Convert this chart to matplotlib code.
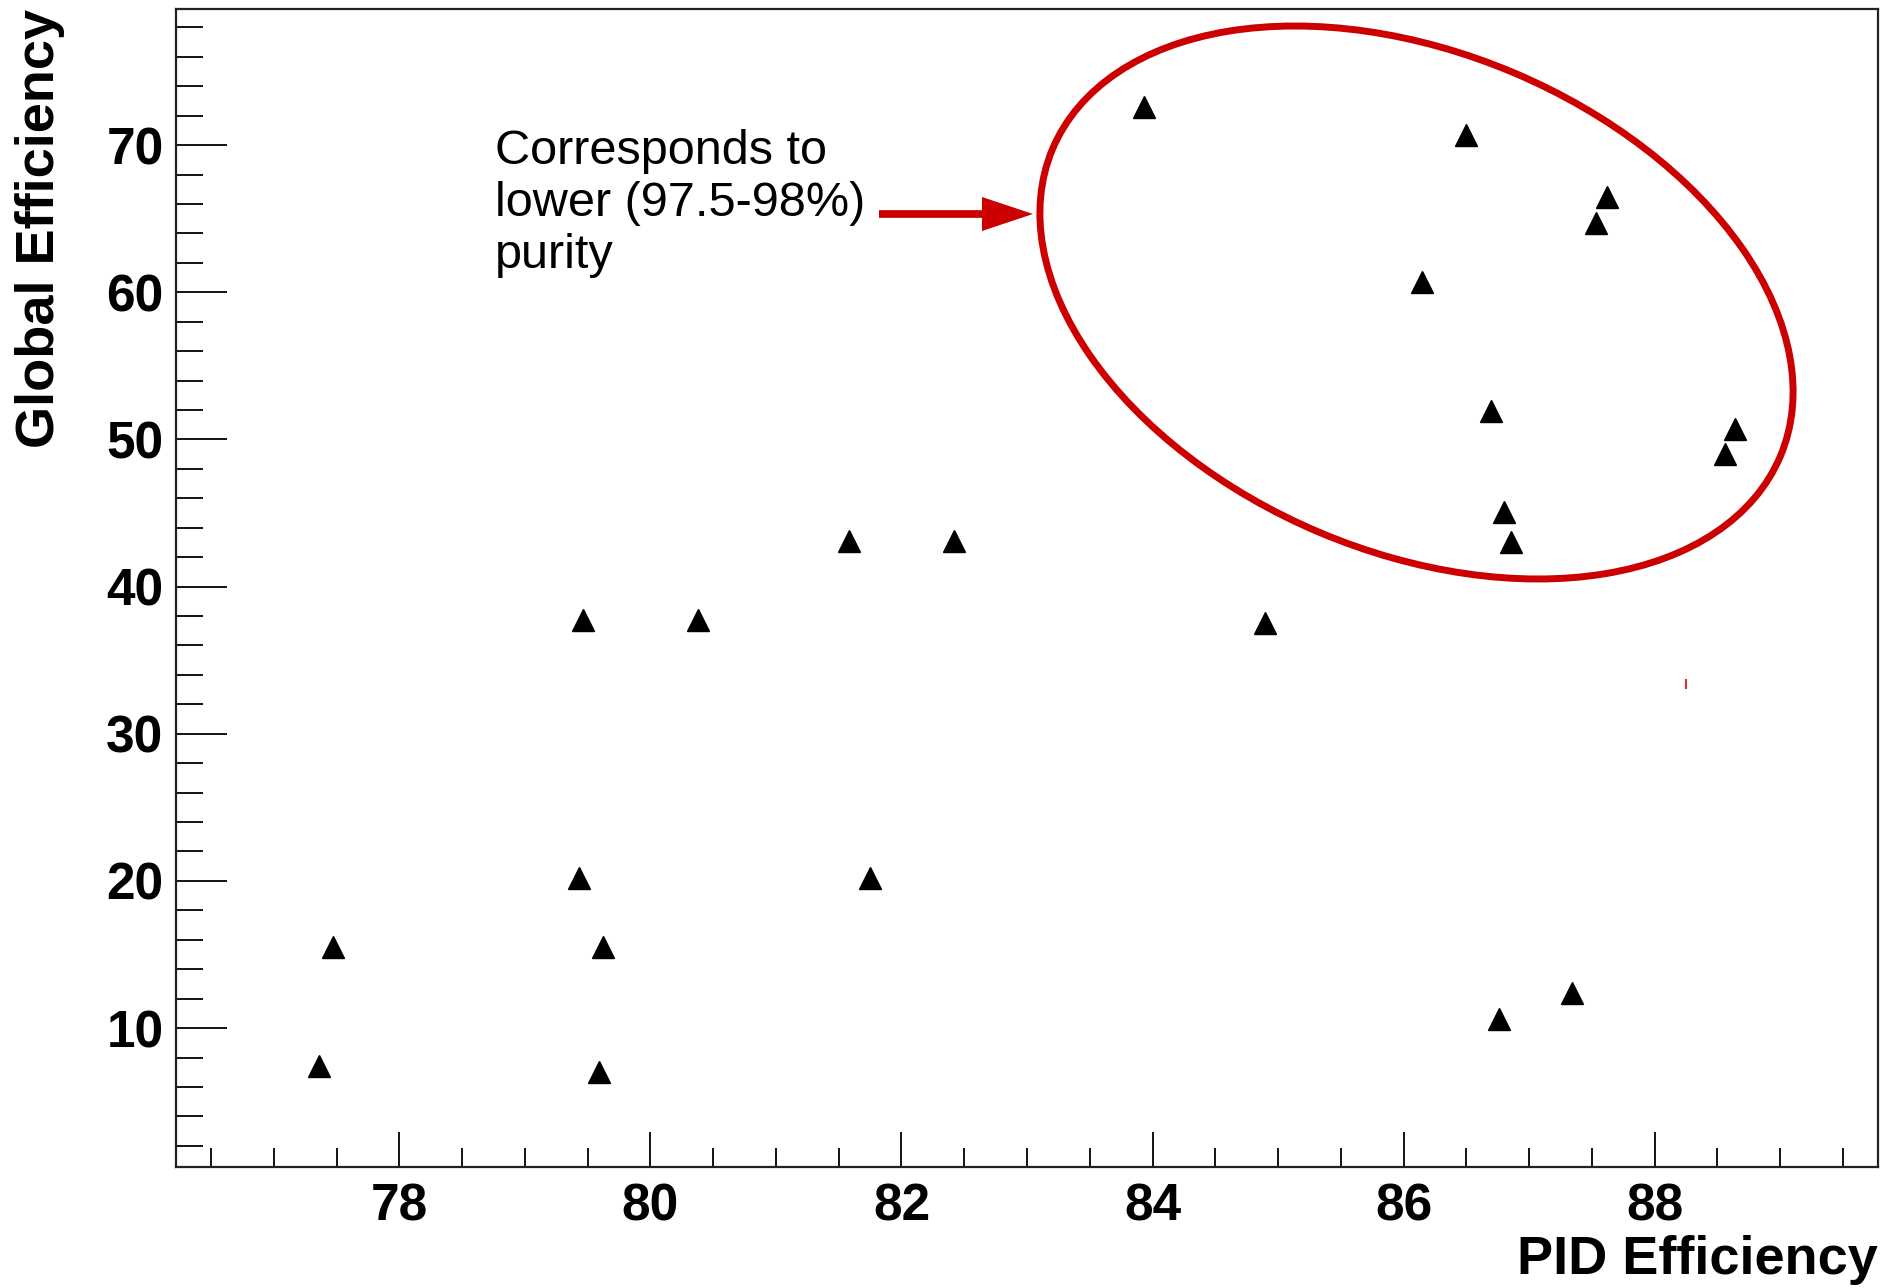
import matplotlib
matplotlib.use("Agg")
import matplotlib.pyplot as plt
from matplotlib.patches import Ellipse, FancyArrow
from matplotlib.ticker import MultipleLocator

# PID efficiency (%) vs global efficiency (%)
pid_eff = [83.93, 86.50, 87.62, 87.53, 86.15, 86.70, 88.64, 88.56, 86.80, 86.86,
           81.58, 82.42, 79.46, 80.38, 84.90, 79.43, 81.75, 77.47, 79.62, 87.34,
           86.76, 77.36, 79.59]
glob_eff = [72.6, 70.7, 66.5, 64.7, 60.7, 51.9, 50.7, 49.0, 45.1, 43.0,
            43.1, 43.1, 37.7, 37.7, 37.5, 20.2, 20.2, 15.5, 15.5, 12.4,
            10.6, 7.4, 7.0]

x_ticks = [78, 80, 82, 84, 86, 88]
y_ticks = [10, 20, 30, 40, 50, 60, 70]
note = "Corresponds to\nlower (97.5-98%)\npurity"
red = "#cc0000"

plt.rcParams["font.family"] = ["Liberation Sans", "DejaVu Sans"]

W, H = 1894, 1288
fig = plt.figure(figsize=(W / 100, H / 100), dpi=100)
ax = fig.add_axes([176 / W, 1 - 1167 / H, (1878 - 176) / W, (1167 - 9) / H])

ax.plot(pid_eff, glob_eff, ls="none", marker="^", ms=16, color="black")
# stray red tick visible in the original
ax.plot([88.25, 88.25], [33.1, 33.65], color="#e03030", lw=1.5)

ax.set_xlim(76.22, 89.78)
ax.set_ylim(0.56, 79.25)
ax.set_xticks(x_ticks)
ax.set_yticks(y_ticks)
ax.xaxis.set_minor_locator(MultipleLocator(0.5))
ax.yaxis.set_minor_locator(MultipleLocator(2))

ax.tick_params(axis="both", which="both", direction="in", top=False, right=False,
               width=1.3, color="black")
ax.tick_params(axis="y", which="major", length=36.7, pad=9, labelsize=37)
ax.tick_params(axis="y", which="minor", length=19.4)
ax.tick_params(axis="x", which="major", length=25, pad=11, labelsize=37)
ax.tick_params(axis="x", which="minor", length=13.7)
for lab in ax.get_xticklabels() + ax.get_yticklabels():
    lab.set_fontweight("bold")
for sp in ax.spines.values():
    sp.set_linewidth(1.6)
    sp.set_color("#222222")

ax.set_xlabel("PID Efficiency", fontsize=39, fontweight="bold", loc="right")
ax.xaxis.set_label_coords(1.0, -0.059)
ax.set_ylabel("Global Efficiency", fontsize=39, fontweight="bold", loc="top")
ax.yaxis.set_label_coords(-0.065, 1.0)

# annotation: text, arrow and ellipse (figure inches from bottom-left)
fig.text(495 / W, 1 - 129 / H, note, fontsize=35, va="top", ha="left")
fig.add_artist(FancyArrow(8.79, (H - 214) / 100, 1.54, 0, width=0.077,
                          head_width=0.34, head_length=0.51,
                          length_includes_head=True, color=red, lw=0,
                          transform=fig.dpi_scale_trans))
fig.add_artist(Ellipse((14.165, (H - 302.5) / 100), 7.90, 4.99, angle=-22.9,
                       fill=False, ec=red, lw=5, transform=fig.dpi_scale_trans))

fig.savefig("out.png", dpi=100)
